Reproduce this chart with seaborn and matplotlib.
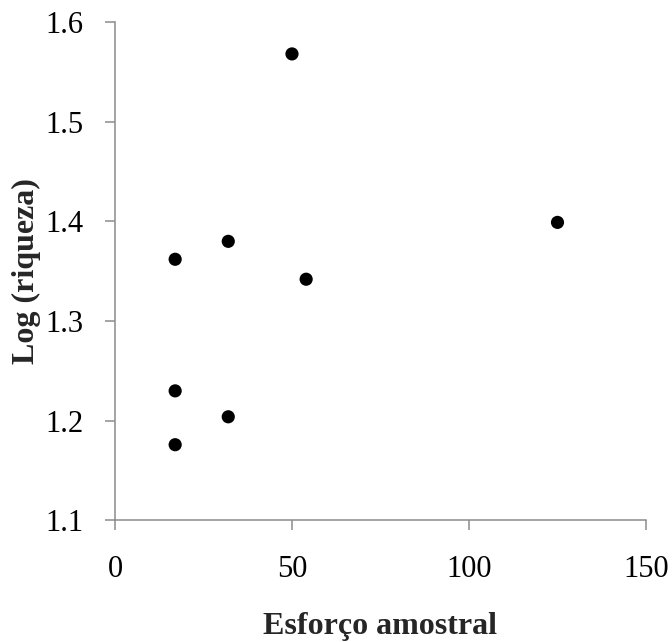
import matplotlib
matplotlib.use("Agg")
import matplotlib.pyplot as plt
import seaborn as sns
import pandas as pd

# Sampling effort vs. log species richness
esforco = [17, 17, 17, 32, 32, 50, 54, 125]
log_riqueza = [1.362, 1.230, 1.176, 1.380, 1.204, 1.568, 1.342, 1.399]
x_ticks = [0, 50, 100, 150]
y_ticks = [1.1, 1.2, 1.3, 1.4, 1.5, 1.6]

sns.set_style("white")
plt.rcParams["font.family"] = ["Liberation Serif", "DejaVu Serif"]

df = pd.DataFrame({"esforco": esforco, "log_riqueza": log_riqueza})

fig = plt.figure(figsize=(6.72, 6.42), dpi=100)
ax = fig.add_axes([0.1711, 0.1893, 0.7902, 0.7764])

sns.scatterplot(data=df, x="esforco", y="log_riqueza", ax=ax,
                color="black", s=90, edgecolor="none", linewidth=0)

ax.set_xlim(0, 150)
ax.set_ylim(1.1, 1.6)
ax.set_xticks(x_ticks)
ax.set_xticklabels([str(v) for v in x_ticks])
ax.set_yticks(y_ticks)
ax.set_yticklabels([f"{v:.1f}" for v in y_ticks])

for side in ("top", "right"):
    ax.spines[side].set_visible(False)
for side in ("left", "bottom"):
    ax.spines[side].set_color("#8c8c8c")
    ax.spines[side].set_linewidth(1.1)

ax.tick_params(axis="both", which="major", direction="out", length=7,
               width=1.1, color="#8c8c8c", labelsize=22, labelcolor="black",
               bottom=True, left=True)
ax.tick_params(axis="y", pad=16)
ax.tick_params(axis="x", pad=18)

ax.set_xlabel("Esforço amostral", fontsize=23, fontweight="bold", labelpad=20)
ax.set_ylabel("Log (riqueza)", fontsize=23, fontweight="bold", labelpad=3)

fig.savefig("out.png", dpi=100, facecolor="white")
